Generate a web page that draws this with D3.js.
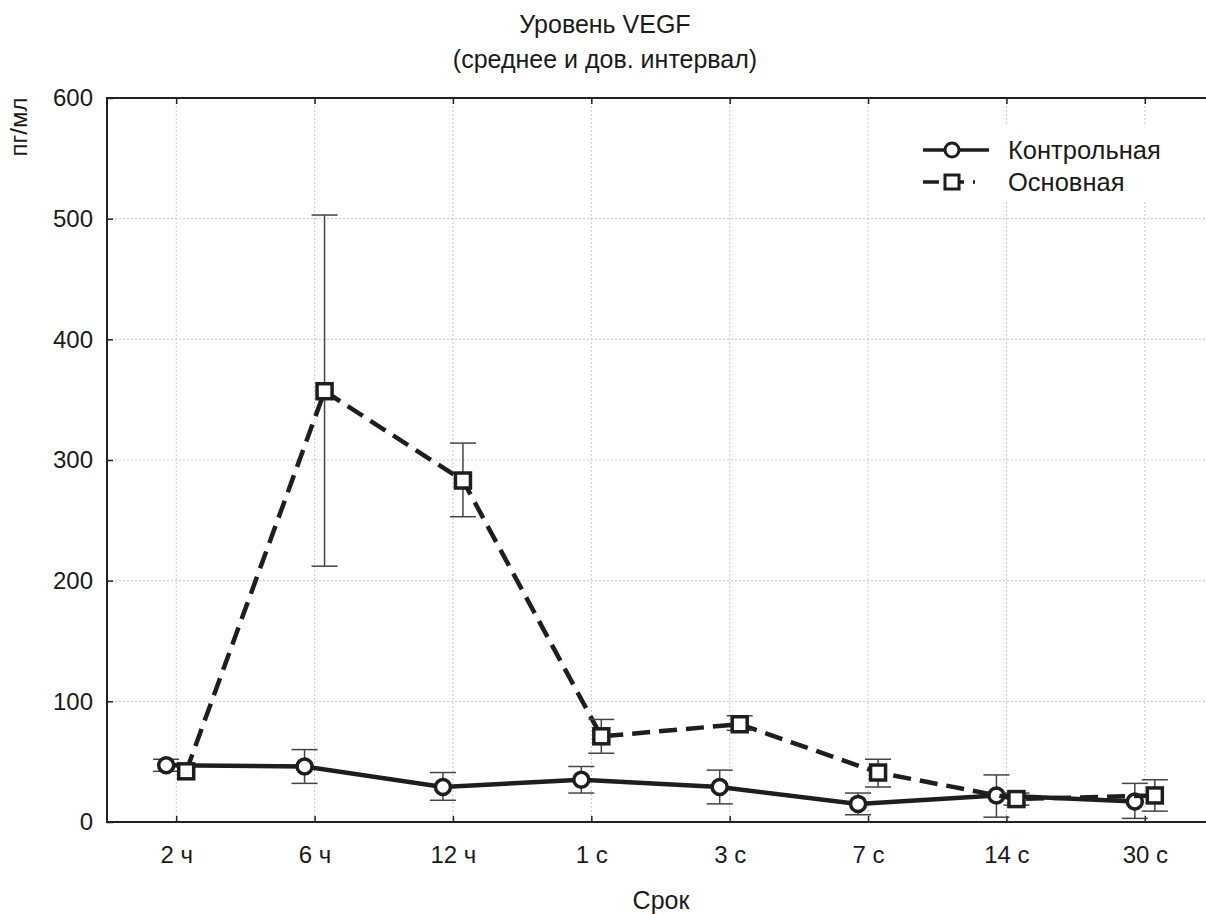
<!DOCTYPE html>
<html>
<head>
<meta charset="utf-8">
<script src="https://cdn.jsdelivr.net/npm/d3@7"></script>
<style>
  body { margin: 0; background: #fff; }
  svg { display: block; font-family: "Liberation Sans", Arial, sans-serif; }
</style>
</head>
<body>
<svg width="1206" height="914"></svg>
<script>
  // data
  const periods = ['2 ч', '6 ч', '12 ч', '1 с', '3 с', '7 с', '14 с', '30 с'];
  const ctrlMean = [47, 46, 29, 35, 29, 15, 22, 17];
  const ctrlLow  = [42, 32, 18, 24, 15, 6, 4, 3];
  const ctrlHigh = [52, 60, 41, 46, 43, 24, 39, 32];
  const mainMean = [42, 357, 283, 71, 81, 41, 19, 22];
  const mainLow  = [null, 212, 253, 57, 76, 29, 14, 9];
  const mainHigh = [null, 503, 314, 85, 88, 52, 24, 35];
  const yTicks = [0, 100, 200, 300, 400, 500, 600];

  const svg = d3.select('svg');
  const pLeft = 107, pTop = 98, pBottom = 822, pRight = 1214;
  const font = '"Liberation Sans", Arial, sans-serif';

  const x = d3.scalePoint().domain(periods).range([pLeft, pRight]).padding(0.5);
  const y = d3.scaleLinear().domain([0, 600]).range([pBottom, pTop]);

  // grid
  const grid = svg.append('g');
  grid.selectAll('.vg').data(periods).enter().append('line')
    .attr('x1', d => x(d)).attr('x2', d => x(d))
    .attr('y1', pTop).attr('y2', pBottom)
    .attr('stroke', '#c8c8c8').attr('stroke-width', 1).attr('stroke-dasharray', '2,2');
  grid.selectAll('.hg').data(yTicks.slice(1, -1)).enter().append('line')
    .attr('x1', pLeft).attr('x2', 1206)
    .attr('y1', d => y(d)).attr('y2', d => y(d))
    .attr('stroke', '#c8c8c8').attr('stroke-width', 1).attr('stroke-dasharray', '2,2');

  // axes (ticks inward)
  const yAxis = svg.append('g').attr('transform', `translate(${pLeft},0)`)
    .call(d3.axisLeft(y).tickValues(yTicks).tickSize(-6).tickPadding(14));
  const xAxis = svg.append('g').attr('transform', `translate(0,${pBottom})`)
    .call(d3.axisBottom(x).tickSize(-6).tickPadding(24));
  const xTop = svg.append('g').attr('transform', `translate(0,${pTop})`)
    .call(d3.axisTop(x).tickSize(-6).tickFormat(''));
  [yAxis, xAxis, xTop].forEach(a => {
    a.attr('font-family', font);
    a.select('.domain').remove();
    a.selectAll('.tick line').attr('stroke', '#222').attr('stroke-width', 1.5);
    a.selectAll('.tick text').attr('fill', '#1a1a1a').style('font-size', '24px');
  });

  // frame (left, bottom, top)
  svg.append('path')
    .attr('d', `M1206,${pTop}H${pLeft}V${pBottom}H1206`)
    .attr('fill', 'none').attr('stroke', '#222').attr('stroke-width', 2);

  const off = 10;
  const drawSeries = (mean, low, high, dx, dash, shape) => {
    const g = svg.append('g');
    const pts = periods.map((p, i) => ({ p, v: mean[i], lo: low[i], hi: high[i] }));
    const line = d3.line().x(d => x(d.p) + dx).y(d => y(d.v));
    g.append('path').datum(pts).attr('d', line)
      .attr('fill', 'none').attr('stroke', '#1e1e1e').attr('stroke-width', 4.5)
      .attr('stroke-dasharray', dash);
    const eb = g.selectAll('.eb').data(pts.filter(d => d.lo != null)).enter().append('g')
      .attr('stroke', '#444').attr('stroke-width', 1.5);
    eb.append('line').attr('x1', d => x(d.p) + dx).attr('x2', d => x(d.p) + dx)
      .attr('y1', d => y(d.lo)).attr('y2', d => y(d.hi));
    eb.append('line').attr('x1', d => x(d.p) + dx - 13).attr('x2', d => x(d.p) + dx + 13)
      .attr('y1', d => y(d.lo)).attr('y2', d => y(d.lo));
    eb.append('line').attr('x1', d => x(d.p) + dx - 13).attr('x2', d => x(d.p) + dx + 13)
      .attr('y1', d => y(d.hi)).attr('y2', d => y(d.hi));
    if (shape === 'circle') {
      g.selectAll('.m').data(pts).enter().append('circle')
        .attr('cx', d => x(d.p) + dx).attr('cy', d => y(d.v)).attr('r', 7.5)
        .attr('fill', '#fff').attr('stroke', '#1e1e1e').attr('stroke-width', 3.5);
    } else {
      g.selectAll('.m').data(pts).enter().append('rect')
        .attr('x', d => x(d.p) + dx - 7.5).attr('y', d => y(d.v) - 7.5)
        .attr('width', 15).attr('height', 15)
        .attr('fill', '#fff').attr('stroke', '#1e1e1e').attr('stroke-width', 3.5);
    }
  };
  drawSeries(ctrlMean, ctrlLow, ctrlHigh, -off, null, 'circle');
  drawSeries(mainMean, mainLow, mainHigh, off, '18,9', 'square');

  // legend
  const lg = svg.append('g');
  lg.append('rect').attr('x', 915).attr('y', 125).attr('width', 280).attr('height', 75).attr('fill', '#fff');
  const leg = [
    { name: 'Контрольная', dash: null, shape: 'circle', yy: 150 },
    { name: 'Основная', dash: '16,9,16,9,2', shape: 'square', yy: 182 }
  ];
  leg.forEach(d => {
    lg.append('line').attr('x1', 923).attr('x2', 989).attr('y1', d.yy).attr('y2', d.yy)
      .attr('stroke', '#1e1e1e').attr('stroke-width', 3.5).attr('stroke-dasharray', d.dash);
    if (d.shape === 'circle') {
      lg.append('circle').attr('cx', 952).attr('cy', d.yy).attr('r', 7)
        .attr('fill', '#fff').attr('stroke', '#1e1e1e').attr('stroke-width', 3);
    } else {
      lg.append('rect').attr('x', 945).attr('y', d.yy - 7).attr('width', 14).attr('height', 14)
        .attr('fill', '#fff').attr('stroke', '#1e1e1e').attr('stroke-width', 3);
    }
    lg.append('text').attr('x', 1008).attr('y', d.yy).attr('dy', '0.35em')
      .style('font-size', '25.5px').attr('fill', '#1a1a1a').text(d.name);
  });

  // titles
  svg.append('text').attr('x', 605).attr('y', 33).attr('text-anchor', 'middle')
    .style('font-size', '25px').attr('fill', '#1a1a1a').text('Уровень VEGF');
  svg.append('text').attr('x', 605).attr('y', 68).attr('text-anchor', 'middle')
    .style('font-size', '25px').attr('fill', '#1a1a1a').text('(среднее и дов. интервал)');
  svg.append('text').attr('x', 661).attr('y', 909).attr('text-anchor', 'middle')
    .style('font-size', '25px').attr('fill', '#1a1a1a').text('Срок');
  svg.append('text').attr('transform', 'translate(27,127) rotate(-90)')
    .attr('text-anchor', 'middle').style('font-size', '24px').attr('fill', '#1a1a1a').text('пг/мл');
</script>
</body>
</html>
